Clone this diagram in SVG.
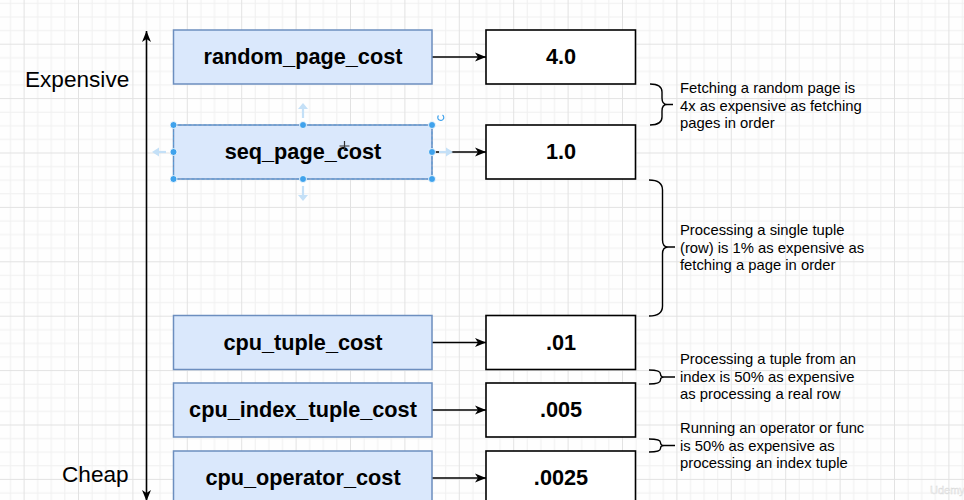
<svg xmlns="http://www.w3.org/2000/svg" width="964" height="500" viewBox="0 0 964 500">
<defs>
<pattern id="grid" x="23.6" y="43.7" width="54.4" height="54.4" patternUnits="userSpaceOnUse">
<rect x="13.6" y="0" width="1" height="54.4" fill="#f0f0f0"/>
<rect x="27.2" y="0" width="1" height="54.4" fill="#f0f0f0"/>
<rect x="40.8" y="0" width="1" height="54.4" fill="#f0f0f0"/>
<rect x="0" y="13.6" width="54.4" height="1" fill="#f0f0f0"/>
<rect x="0" y="27.2" width="54.4" height="1" fill="#f0f0f0"/>
<rect x="0" y="40.8" width="54.4" height="1" fill="#f0f0f0"/>
<rect x="0" y="0" width="1" height="54.4" fill="#e2e2e2"/>
<rect x="0" y="0" width="54.4" height="1" fill="#e2e2e2"/>
</pattern>
<marker id="arr" viewBox="0 0 12 10" refX="11" refY="5" markerWidth="12" markerHeight="10" markerUnits="userSpaceOnUse" orient="auto-start-reverse">
<path d="M0,0.5 L11,5 L0,9.5 L3,5 Z" fill="#000"/>
</marker>
<style>
.key{fill:#dae8fc;stroke:#6c8ebf;stroke-width:1.5}
.val{fill:#fff;stroke:#000;stroke-width:1.6}
.lbl{font-family:"Liberation Sans",Arial,sans-serif;font-weight:bold;font-size:21.7px;fill:#000;text-anchor:middle}
.big{font-family:"Liberation Sans",Arial,sans-serif;font-size:22.6px;fill:#000}
.note{font-family:"Liberation Sans",Arial,sans-serif;font-size:14.8px;fill:#000}
.edge{fill:none;stroke:#000;stroke-width:1.6}
.brace{fill:none;stroke:#000;stroke-width:1.4}
.handle{fill:#3fa2ec;stroke:#fff;stroke-width:0.8}
.ghost{fill:none;stroke:#c4e0f7;stroke-width:2.2}
.ghostfill{fill:#c4e0f7}
</style>
</defs>
<rect width="964" height="500" fill="#fefefe"/>
<rect width="964" height="500" fill="url(#grid)"/>

<g id="axis">
<path class="edge" d="M146.5,501 L146.5,31" marker-start="url(#arr)" marker-end="url(#arr)"/>
<text class="big" x="25" y="87">Expensive</text>
<text class="big" x="62" y="482">Cheap</text>
</g>

<g id="connectors">
<path class="edge" d="M432,57 L486,57" marker-end="url(#arr)"/>
<path class="edge" d="M432,152 L486,152" marker-end="url(#arr)"/>
<path class="edge" d="M432,342.5 L486,342.5" marker-end="url(#arr)"/>
<path class="edge" d="M432,410 L486,410" marker-end="url(#arr)"/>
<path class="edge" d="M432,478 L486,478" marker-end="url(#arr)"/>
</g>

<g id="random_page_cost">
<rect class="key" x="173.5" y="30" width="258.5" height="54"/>
<text class="lbl" x="303" y="64">random_page_cost</text>
</g>
<g id="seq_page_cost">
<rect class="key" x="173.5" y="125" width="258.5" height="54"/>
<text class="lbl" x="303" y="159">seq_page_cost</text>
</g>
<g id="cpu_tuple_cost">
<rect class="key" x="173.5" y="315.5" width="258.5" height="54"/>
<text class="lbl" x="303" y="349.5">cpu_tuple_cost</text>
</g>
<g id="cpu_index_tuple_cost">
<rect class="key" x="173.5" y="383" width="258.5" height="54"/>
<text class="lbl" x="303" y="417">cpu_index_tuple_cost</text>
</g>
<g id="cpu_operator_cost">
<rect class="key" x="173.5" y="451" width="258.5" height="54"/>
<text class="lbl" x="303" y="485">cpu_operator_cost</text>
</g>

<g id="val_random">
<rect class="val" x="486" y="30" width="149.5" height="54"/>
<text class="lbl" x="561" y="64">4.0</text>
</g>
<g id="val_seq">
<rect class="val" x="486" y="125" width="149.5" height="54"/>
<text class="lbl" x="561" y="159">1.0</text>
</g>
<g id="val_cpu_tuple">
<rect class="val" x="486" y="315.5" width="149.5" height="54"/>
<text class="lbl" x="561" y="349.5">.01</text>
</g>
<g id="val_cpu_index">
<rect class="val" x="486" y="383" width="149.5" height="54"/>
<text class="lbl" x="561" y="417">.005</text>
</g>
<g id="val_cpu_operator">
<rect class="val" x="486" y="451" width="149.5" height="54"/>
<text class="lbl" x="561" y="485">.0025</text>
</g>

<g id="note1">
<path class="brace" d="M650,84 Q662,84 662,92 L662,98 Q662,104.5 667,104.5 L673,104.5 M667,104.5 Q662,104.5 662,111 L662,117 Q662,125 650,125"/>
<text class="note" x="680" y="93">Fetching a random page is</text>
<text class="note" x="680" y="110.5">4x as expensive as fetching</text>
<text class="note" x="680" y="128">pages in order</text>
</g>
<g id="note2">
<path class="brace" d="M649,180 Q662.5,180 662.5,190 L662.5,240 Q662.5,247 668,247 L675,247 M668,247 Q662.5,247 662.5,254 L662.5,306 Q662.5,316 649,316"/>
<text class="note" x="680" y="235">Processing a single tuple</text>
<text class="note" x="680" y="252.5">(row) is 1% as expensive as</text>
<text class="note" x="680" y="270">fetching a page in order</text>
</g>
<g id="note3">
<path class="brace" d="M649,370 Q660.5,370 660.5,374 Q660.5,377 664,377 L675,377 M664,377 Q660.5,377 660.5,380 Q660.5,384 649,384"/>
<text class="note" x="680" y="364">Processing a tuple from an</text>
<text class="note" x="680" y="381.5">index is 50% as expensive</text>
<text class="note" x="680" y="399">as processing a real row</text>
</g>
<g id="note4">
<path class="brace" d="M649,439 Q660.5,439 660.5,442.5 Q660.5,445.5 664,445.5 L675,445.5 M664,445.5 Q660.5,445.5 660.5,448.5 Q660.5,452 649,452"/>
<text class="note" x="680" y="433">Running an operator or func</text>
<text class="note" x="680" y="450.5">is 50% as expensive as</text>
<text class="note" x="680" y="468">processing an index tuple</text>
</g>

<g id="selection">
<rect x="173.5" y="125" width="258.5" height="54" fill="none" stroke="#5b9bd5" stroke-width="1" stroke-dasharray="3,2"/>
<path class="ghost" d="M303,118 L303,106"/><path class="ghostfill" d="M298,109 L303,103 L308,109 Z"/>
<path class="ghost" d="M303,186 L303,198"/><path class="ghostfill" d="M298,195 L303,201 L308,195 Z"/>
<path class="ghost" d="M166,152 L156,152"/><path class="ghostfill" d="M159,147.5 L152,152 L159,156.5 Z"/>
<path class="ghost" d="M439,152 L449,152"/><path class="ghostfill" d="M446,147.5 L453,152 L446,156.5 Z"/>
<circle class="handle" cx="173.5" cy="125" r="3.5"/>
<circle class="handle" cx="303" cy="125" r="3.5"/>
<circle class="handle" cx="432" cy="125" r="3.5"/>
<circle class="handle" cx="173.5" cy="152" r="3.5"/>
<circle class="handle" cx="432" cy="152" r="3.5"/>
<circle class="handle" cx="173.5" cy="179" r="3.5"/>
<circle class="handle" cx="303" cy="179" r="3.5"/>
<circle class="handle" cx="432" cy="179" r="3.5"/>
<path d="M442.5,115 A3,3 0 1 1 438.5,115.5" fill="none" stroke="#3fa2ec" stroke-width="1.2"/>
<path d="M344.5,141 L344.5,151 M339.5,146 L349.5,146" stroke="#333" stroke-width="1.2"/>
</g>

<text x="930" y="494" font-family="Liberation Sans, Arial, sans-serif" font-size="11" fill="#f4f4f4" stroke="#d8d8d8" stroke-width="0.4">Udemy</text>
</svg>
